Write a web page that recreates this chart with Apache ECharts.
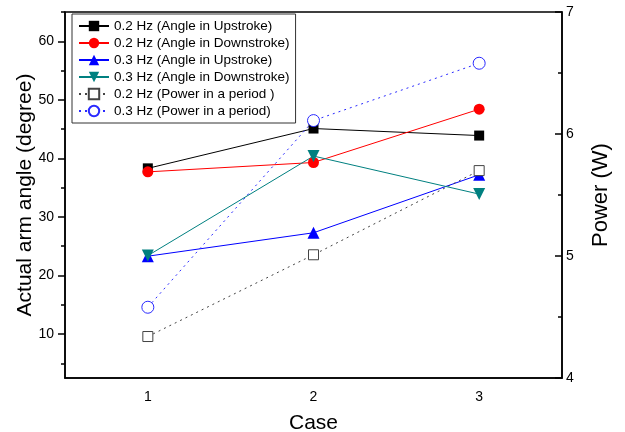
<!DOCTYPE html>
<html><head><meta charset="utf-8">
<script src="https://cdn.jsdelivr.net/npm/echarts@6/dist/echarts.min.js"></script>
<style>html,body{margin:0;padding:0;background:#fff}#c{width:625px;height:432px}</style>
</head><body><div id="c"></div>
<script>
const categories = ['1', '2', '3'];
const up02 = [38.3, 45.1, 43.9];
const down02 = [37.7, 39.3, 48.4];
const up03 = [23.3, 27.3, 37.2];
const down03 = [23.4, 40.4, 33.9];
const power02 = [4.34, 5.01, 5.70];
const power03 = [4.58, 6.11, 6.58];
const leftTicks = [10, 20, 30, 40, 50, 60];
const leftMinorTicks = [5, 15, 25, 35, 45, 55, 65];
const names = ['0.2 Hz (Angle in Upstroke)', '0.2 Hz (Angle in Downstroke)', '0.3 Hz (Angle in Upstroke)', '0.3 Hz (Angle in Downstroke)', '0.2 Hz (Power in a period )', '0.3 Hz (Power in a period)'];

const font = 'Liberation Sans, Arial, sans-serif';
const chart = echarts.init(document.getElementById('c'), null, {renderer: 'canvas'});
const ax = {lineStyle: {color: '#000', width: 1.5}};
chart.setOption({
  animation: false,
  backgroundColor: '#fff',
  grid: {left: 65, right: 63, top: 12, bottom: 54, show: true, borderColor: '#000', borderWidth: 1.5, backgroundColor: 'transparent', outerBoundsMode: 'none', containLabel: false},
  legend: {
    orient: 'vertical', left: 72, top: 14,
    itemWidth: 30, itemHeight: 13, itemGap: 3,
    borderColor: '#333', borderWidth: 1, padding: [5, 6, 5, 6],
    textStyle: {fontFamily: font, fontSize: 13.5, color: '#000'},
    data: names
  },
  xAxis: {
    type: 'category', data: categories, boundaryGap: true,
    name: 'Case', nameLocation: 'middle', nameGap: 35,
    nameTextStyle: {fontFamily: font, fontSize: 21, color: '#000'},
    axisLine: ax,
    axisTick: {alignWithLabel: true, length: 6, lineStyle: {color: '#000', width: 1.5}},
    axisLabel: {fontFamily: font, fontSize: 14, color: '#000', margin: 12},
    splitLine: {show: false}
  },
  yAxis: [
    {
      type: 'value', min: 2.5, max: 65, position: 'left',
      name: 'Actual arm angle (degree)', nameLocation: 'middle', nameGap: 29, nameMoveOverlap: false,
      nameTextStyle: {fontFamily: font, fontSize: 21, color: '#000'},
      axisLine: {show: true, lineStyle: {color: '#000', width: 1.5}},
      axisTick: {show: true, length: 7, customValues: leftTicks, lineStyle: {color: '#000', width: 1.5}},
      axisLabel: {fontFamily: font, fontSize: 14, color: '#000', margin: 11, customValues: leftTicks},
      splitLine: {show: false}
    },
    {
      type: 'value', min: 4, max: 7, interval: 1, position: 'right',
      name: 'Power (W)', nameLocation: 'middle', nameGap: 28,
      nameTextStyle: {fontFamily: font, fontSize: 22, color: '#000'},
      axisLine: {show: true, lineStyle: {color: '#000', width: 1.5}},
      axisTick: {show: true, inside: true, length: 7, lineStyle: {color: '#000', width: 1.5}},
      minorTick: {show: true, splitNumber: 2, length: 4, lineStyle: {color: '#000', width: 1.5}},
      axisLabel: {fontFamily: font, fontSize: 14, color: '#000', margin: 4, inside: false},
      splitLine: {show: false}, minorSplitLine: {show: false}
    },
    {
      type: 'value', min: 2.5, max: 65, position: 'left',
      axisLine: {show: false},
      axisTick: {show: true, length: 4, customValues: leftMinorTicks, lineStyle: {color: '#000', width: 1.5}},
      axisLabel: {show: false},
      splitLine: {show: false}
    }
  ],
  series: [
    {name: names[0], type: 'line', data: up02, yAxisIndex: 0, symbol: 'rect', symbolSize: 10,
     itemStyle: {color: '#000'}, lineStyle: {color: '#000', width: 1}},
    {name: names[1], type: 'line', data: down02, yAxisIndex: 0, symbol: 'circle', symbolSize: 11,
     itemStyle: {color: '#ff0000'}, lineStyle: {color: '#ff0000', width: 1}},
    {name: names[2], type: 'line', data: up03, yAxisIndex: 0, symbol: 'triangle', symbolSize: 12,
     itemStyle: {color: '#0000ff'}, lineStyle: {color: '#0000ff', width: 1}},
    {name: names[3], type: 'line', data: down03, yAxisIndex: 0, symbol: 'triangle', symbolRotate: 180, symbolSize: 12,
     itemStyle: {color: '#008080'}, lineStyle: {color: '#008080', width: 1}},
    {name: names[4], type: 'line', data: power02, yAxisIndex: 1, symbol: 'rect', symbolSize: 10,
     itemStyle: {color: '#fff', borderColor: '#444', borderWidth: 1}, lineStyle: {color: '#444', width: 1, type: [2, 4]}},
    {name: names[5], type: 'line', data: power03, yAxisIndex: 1, symbol: 'circle', symbolSize: 12,
     itemStyle: {color: '#fff', borderColor: '#2a2aff', borderWidth: 1}, lineStyle: {color: '#2a2aff', width: 1, type: [2, 4]}}
  ]
});
</script></body></html>
